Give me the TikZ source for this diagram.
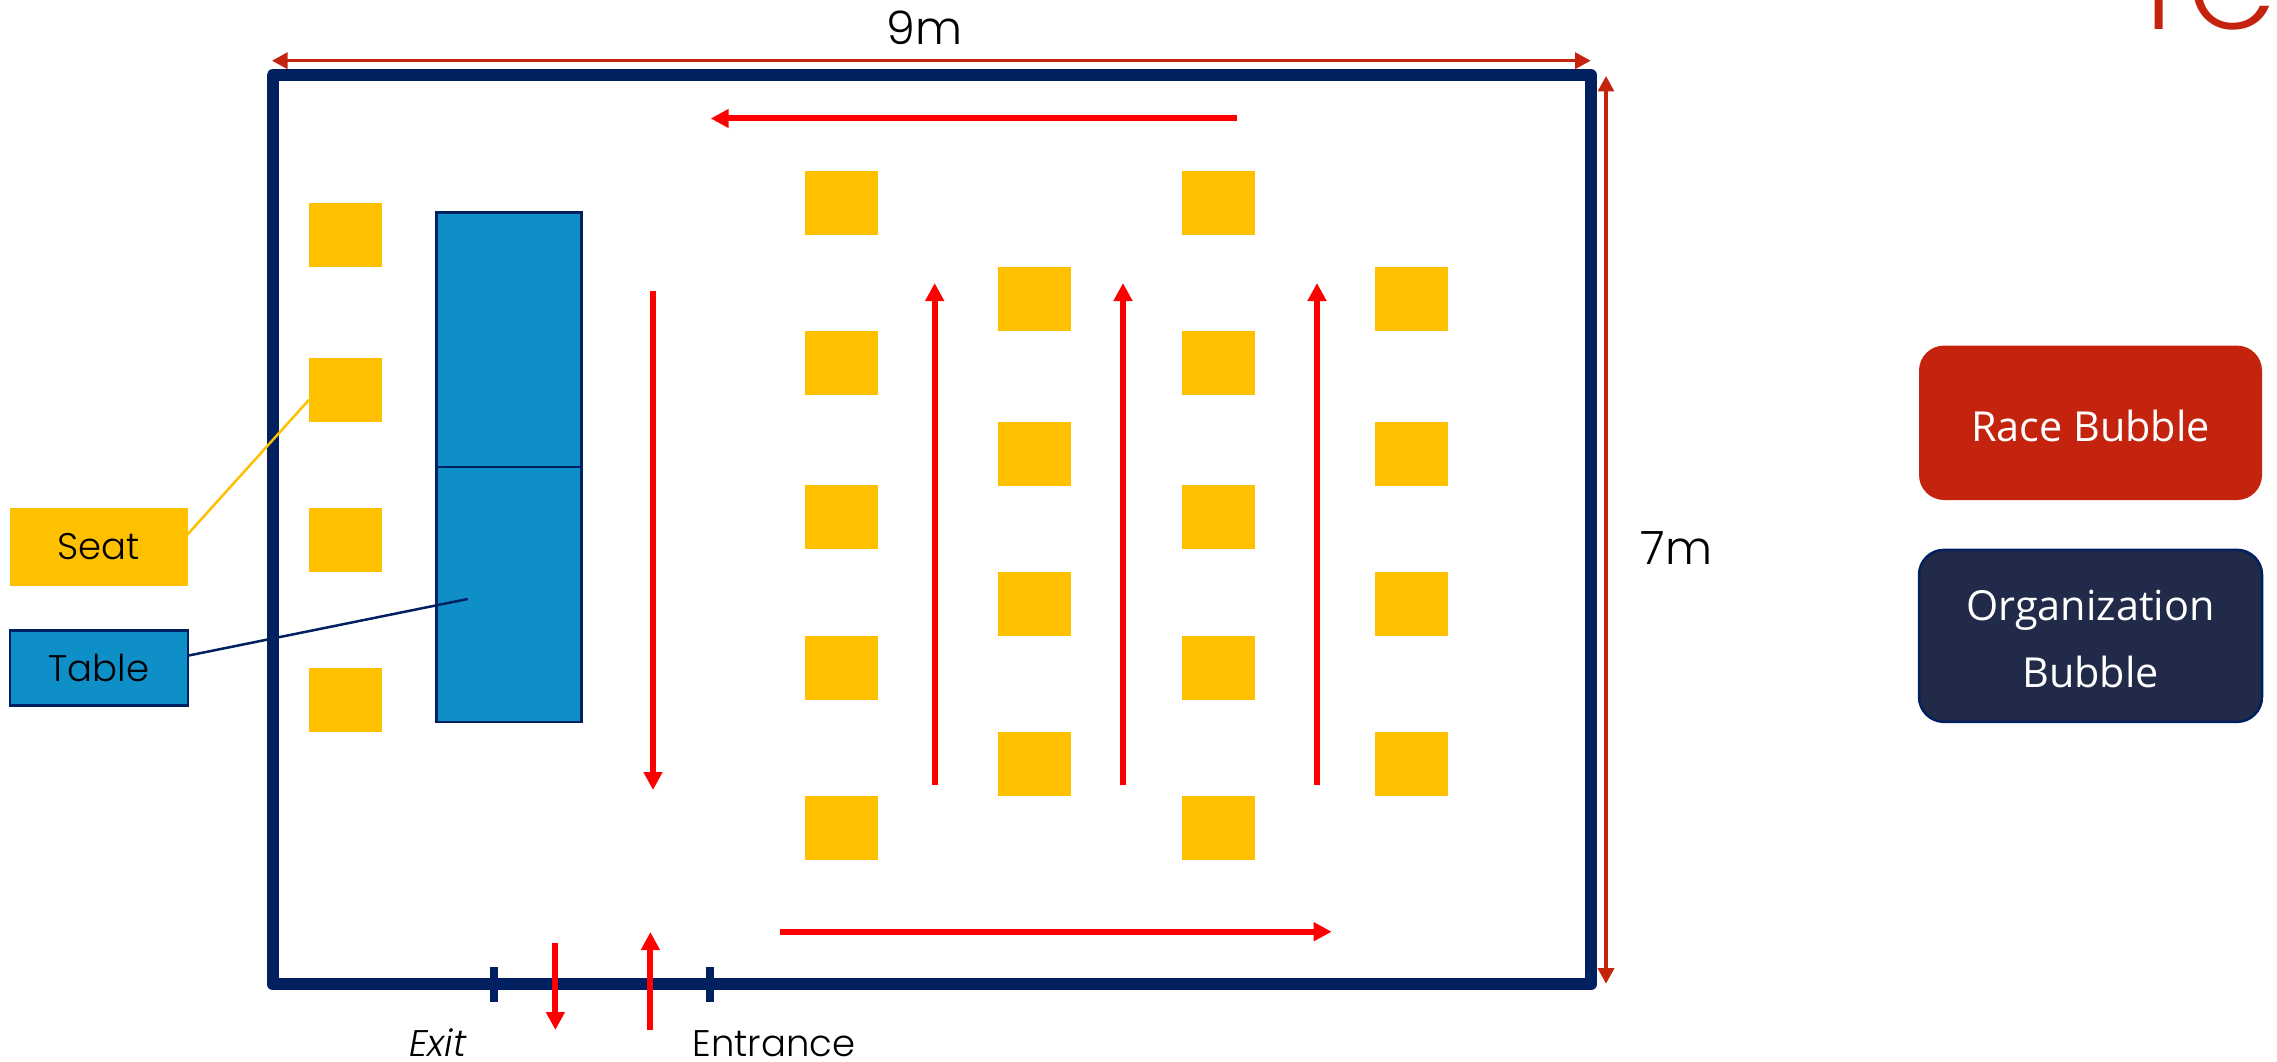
\documentclass[tikz,border=0pt]{standalone}
\usepackage{fontspec}
\setmainfont{Poppins}[UprightFont=* Light,ItalicFont=* Light Italic]
\newfontfamily\bubblefont{Open Sans}
\usetikzlibrary{arrows.meta}
\definecolor{navy}{HTML}{002060}
\definecolor{seatyellow}{HTML}{FFC000}
\definecolor{tableblue}{HTML}{0E8FC8}
\definecolor{dimred}{HTML}{C4230E}
\definecolor{orgfill}{HTML}{222A49}
\tikzset{
  seatbox/.style={fill=seatyellow,minimum width=73pt,minimum height=64pt,inner sep=0pt,outer sep=0pt},
  tablebox/.style={fill=tableblue,draw=navy,line width=2.5pt,minimum width=145pt,inner sep=0pt,outer sep=0pt},
  legendlabel/.style={inner sep=0pt,outer sep=0pt,minimum width=178pt,font=\fontsize{37}{44}\selectfont},
  flow/.style={draw=red,line width=6pt,-{Triangle[length=18pt,width=18pt]}},
  dimension/.style={draw=dimred,line width=3.2pt,{Triangle[length=15.5pt,width=16pt]}-{Triangle[length=15.5pt,width=16pt]}},
  bubble/.style={inner sep=0pt,outer sep=0pt,rounded corners=25pt,text=white,font=\bubblefont\fontsize{41.4}{66.5}\selectfont,align=center},
  doorstick/.style={draw=navy,line width=8pt},
  caption/.style={inner sep=0pt,outer sep=0pt,anchor=base},
}
\begin{document}
\begin{tikzpicture}[x=1pt,y=-1pt]
\useasboundingbox (0,0) rectangle (2277,1062);

% fragment of a title, cut by the page
\node[caption,text=dimred,anchor=base west,font=\fontsize{114}{120}\selectfont] (title) at (2129,30) {TC};

% table
\node[tablebox,minimum height=254.5pt] (tabletop) at (509,339.75) {};
\node[tablebox,minimum height=255pt] (tablebottom) at (509,594.5) {};

% legend labels
\node[legendlabel,fill=seatyellow,minimum height=78pt] (lblseat) at (98.5,547) {Seat};
\node[legendlabel,fill=tableblue,draw=navy,line width=2.5pt,minimum height=75pt] (lbltable) at (98.75,668.2) {Table};

% table leader (passes under the wall)
\coordinate (tablepoint) at (467.7,599);
\draw[navy,line width=2.5pt] (lbltable.8) -- (tablepoint);

% room
\coordinate (ra) at (272.5,75.3);
\coordinate (rb) at (1591,75.3);
\coordinate (rc) at (1591,984.3);
\coordinate (rd) at (272.5,984.3);
\draw[navy,line width=12pt,line join=round] (ra) -- (rb) -- (rc) -- (rd) -- cycle;

% door ticks
\coordinate (exittop) at (494.4,967);
\coordinate (exitbot) at (494.4,1001.7);
\coordinate (enttop) at (710,967);
\coordinate (entbot) at (710,1001.7);
\draw[doorstick] (exittop) -- (exitbot);
\draw[doorstick] (enttop) -- (entbot);

% seats
\foreach \n/\y in {a/235,b/390,c/540,d/700}
  \node[seatbox] (s1\n) at (345.5,\y) {};
\foreach \n/\y in {a/203,b/363,c/517,d/668,e/828}
  \node[seatbox] (s2\n) at (841.5,\y) {};
\foreach \n/\y in {a/299,b/454,c/604,d/764}
  \node[seatbox] (s3\n) at (1034.5,\y) {};
\foreach \n/\y in {a/203,b/363,c/517,d/668,e/828}
  \node[seatbox] (s4\n) at (1218.5,\y) {};
\foreach \n/\y in {a/299,b/454,c/604,d/764}
  \node[seatbox] (s5\n) at (1411.5,\y) {};

% seat leader
\draw[seatyellow,line width=2.5pt] (lblseat.8.3) -- (s1b.195.3);

% flow arrows
\coordinate (f1a) at (1237,118.5); \coordinate (f1b) at (710.7,118.5);
\coordinate (f2a) at (653,291);    \coordinate (f2b) at (653,790);
\coordinate (f3a) at (934.7,785);  \coordinate (f3b) at (934.7,283);
\coordinate (f4a) at (1123,785);   \coordinate (f4b) at (1123,283);
\coordinate (f5a) at (1317,785);   \coordinate (f5b) at (1317,283);
\coordinate (f6a) at (780,931.7);  \coordinate (f6b) at (1331.7,931.7);
\coordinate (f7a) at (555.4,942.7);\coordinate (f7b) at (555.4,1030);
\coordinate (f8a) at (650.4,1030); \coordinate (f8b) at (650.4,932);
\foreach \k in {1,...,8} \draw[flow] (f\k a) -- (f\k b);

% dimensions
\coordinate (d9a) at (272,60.7); \coordinate (d9b) at (1590.7,60.7);
\coordinate (d7a) at (1606,76);  \coordinate (d7b) at (1606,983.7);
\draw[dimension] (d9a) -- (d9b);
\draw[dimension] (d7a) -- (d7b);

% captions
\node[caption,font=\fontsize{46}{56}\selectfont] (nine) at (924.6,45) {9m};
\node[caption,font=\fontsize{46}{56}\selectfont] (seven) at (1676.5,564.5) {7m};
\node[caption,font=\fontsize{37}{44}\selectfont\itshape] (exit) at (437.7,1056) {Exit};
\node[caption,font=\fontsize{37}{44}\selectfont] (entrance) at (773.8,1056) {Entrance};

% bubbles
\node[bubble,fill=dimred,minimum width=343pt,minimum height=154.4pt] (race) at (2090.5,422.8) {\raisebox{0pt}[40pt][3.6pt]{Race Bubble}};
\node[bubble,fill=orgfill,draw=navy,line width=2.5pt,minimum width=343pt,minimum height=172pt] (org) at (2090.5,635.85) {\rule{0pt}{37pt}Organization\\Bubble};
\end{tikzpicture}
\end{document}
